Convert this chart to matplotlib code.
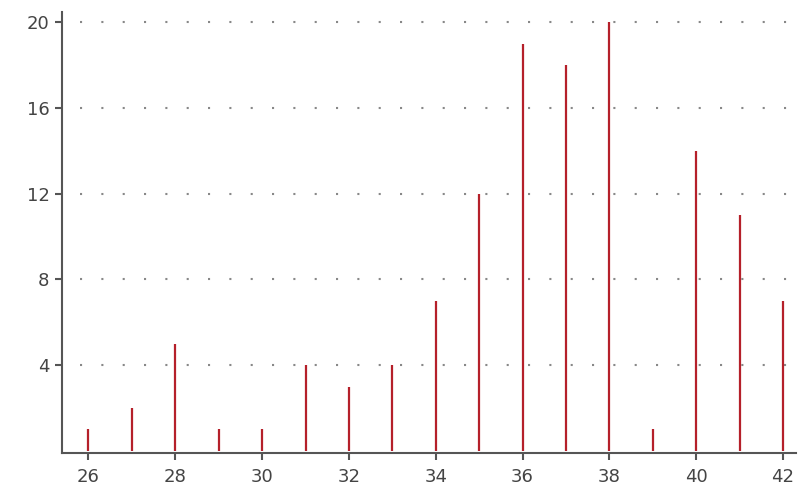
import matplotlib.pyplot as plt

# dados
valores_x = [26, 27, 28, 29, 30, 31, 32, 33, 34, 35, 36, 37, 38, 39, 40, 41, 42]
contagens = [1, 2, 5, 1, 1, 4, 3, 4, 7, 12, 19, 18, 20, 1, 14, 11, 7]
ticks_x = [26, 28, 30, 32, 34, 36, 38, 40, 42]
ticks_y = [4, 8, 12, 16, 20]

cor_barra = '#b5202a'
cor_eixo = '#555555'

fig = plt.figure(figsize=(8.03, 4.93), dpi=100)
ax = fig.add_axes([62 / 803, 40 / 493, (796 - 62) / 803, (453 - 12) / 493])

ax.vlines(valores_x, 0, contagens, colors=cor_barra, linewidth=1.6)

ax.set_xlim(25.39, 42.3)
ax.set_ylim(-0.1, 20.47)
ax.set_xticks(ticks_x)
ax.set_yticks(ticks_y)

for y in ticks_y:
    ax.axhline(y, color='#888888', linewidth=1.5,
               linestyle=(1.6, (1, 9.24)), zorder=0)

for lado in ['top', 'right']:
    ax.spines[lado].set_visible(False)
for lado in ['left', 'bottom']:
    ax.spines[lado].set_color(cor_eixo)
    ax.spines[lado].set_linewidth(1.5)

ax.tick_params(axis='both', colors=cor_eixo, labelcolor='#444444',
               labelsize=13, length=5, width=1.5, direction='out')
ax.tick_params(axis='x', pad=6)
ax.tick_params(axis='y', pad=4)

fig.savefig('out.png', dpi=100)
